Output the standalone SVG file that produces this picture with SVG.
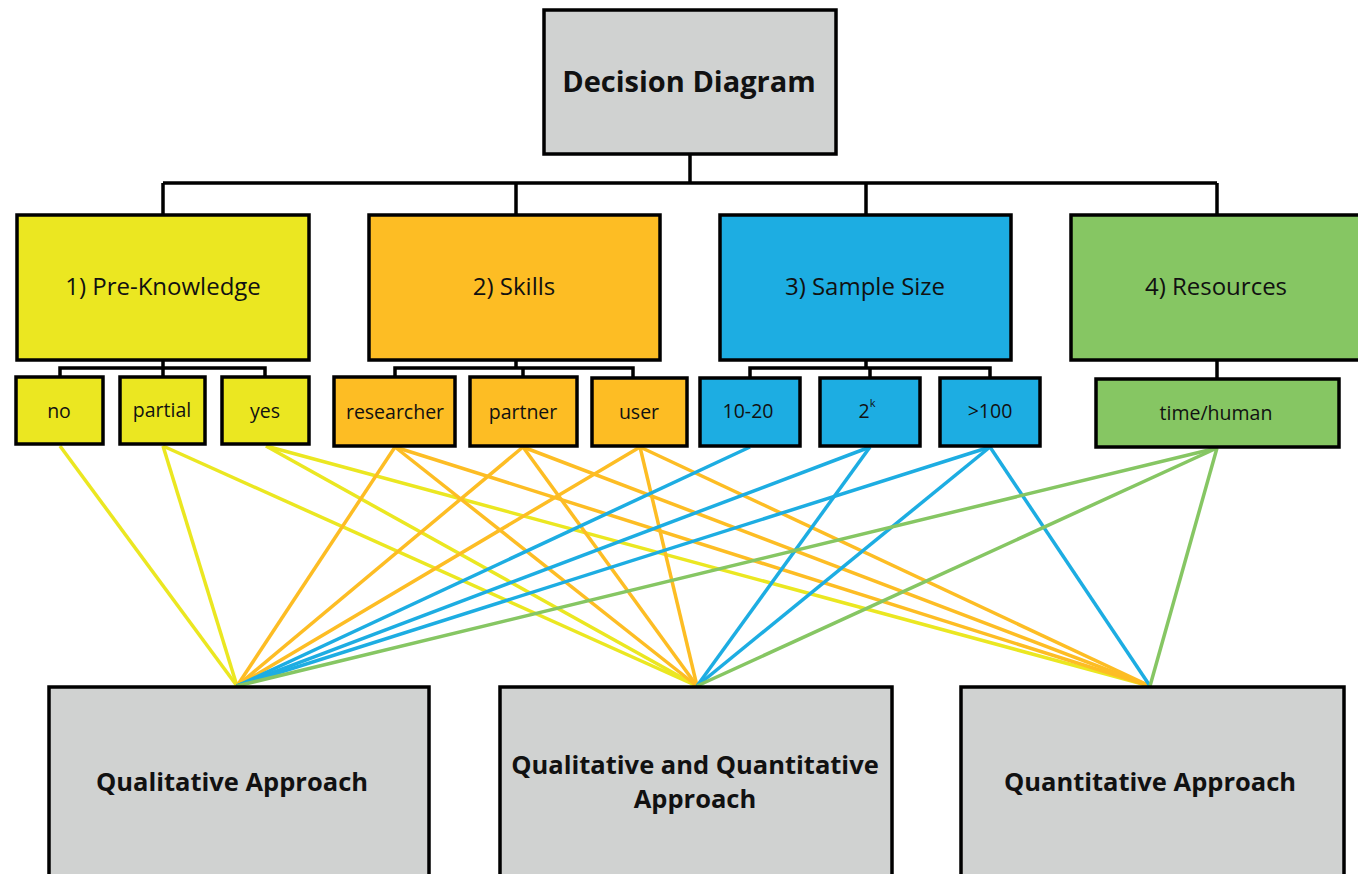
<svg xmlns="http://www.w3.org/2000/svg" width="1358" height="874" viewBox="0 0 1358 874">
<style>
.box{stroke:#000;stroke-width:3.5}
.gray{fill:#D0D2D1}
.yel{fill:#EBE721}
.org{fill:#FDBD24}
.blu{fill:#1DADE2}
.grn{fill:#86C663}
.t{font-family:"Open Sans","Liberation Sans",sans-serif;fill:#111;text-anchor:middle;dominant-baseline:central}
.cat{font-size:24px}
.sub{font-size:19.5px}
.bold{font-weight:bold}
.big{font-size:25.5px}
.tree{fill:none;stroke:#000;stroke-width:3.5}
.ly{stroke:#EBE721;stroke-width:3.5}
.lo{stroke:#FDBD24;stroke-width:3.5}
.lb{stroke:#1DADE2;stroke-width:3.5}
.lg{stroke:#86C663;stroke-width:3.5}
</style>
<g id="connectors">
<path class="tree" d="M690 154V183M163 183H1217M163 183V215M516 183V215M866 183V215M1217 183V215"/>
<path class="tree" d="M163 360V368M60 377V368H265V377M163 368V377"/>
<path class="tree" d="M516 360V368M395 377V368H633V377M523 368V377"/>
<path class="tree" d="M866 360V368M750 378V368H990V378M870 368V378"/>
<path class="tree" d="M1217 360V379"/>
<g class="ly">
<line x1="60" y1="446" x2="237" y2="686"/>
<line x1="163" y1="446" x2="237" y2="686"/>
<line x1="163" y1="446" x2="697" y2="686"/>
<line x1="266" y1="446" x2="697" y2="686"/>
<line x1="266" y1="446" x2="1150" y2="686"/>
</g>
<g class="lo">
<line x1="395" y1="447" x2="237" y2="686"/>
<line x1="395" y1="447" x2="697" y2="686"/>
<line x1="395" y1="447" x2="1150" y2="686"/>
<line x1="523" y1="447" x2="237" y2="686"/>
<line x1="523" y1="447" x2="697" y2="686"/>
<line x1="523" y1="447" x2="1150" y2="686"/>
<line x1="640" y1="447" x2="237" y2="686"/>
<line x1="640" y1="447" x2="697" y2="686"/>
<line x1="640" y1="447" x2="1150" y2="686"/>
</g>
<g class="lb">
<line x1="750" y1="447" x2="237" y2="686"/>
<line x1="870" y1="447" x2="237" y2="686"/>
<line x1="870" y1="447" x2="697" y2="686"/>
<line x1="990" y1="447" x2="237" y2="686"/>
<line x1="990" y1="447" x2="697" y2="686"/>
<line x1="990" y1="447" x2="1150" y2="686"/>
</g>
<g class="lg">
<line x1="1217" y1="448" x2="237" y2="686"/>
<line x1="1217" y1="448" x2="697" y2="686"/>
<line x1="1217" y1="448" x2="1150" y2="686"/>
</g>
</g>
<g id="decision"><rect class="box gray" x="544" y="10" width="292" height="144"/><text class="t bold" x="689" y="80" font-size="29">Decision Diagram</text></g>
<g id="preknowledge"><rect class="box yel" x="17" y="215" width="292" height="145"/><text class="t cat" x="163" y="285">1) Pre-Knowledge</text></g>
<g id="skills"><rect class="box org" x="369" y="215" width="291" height="145"/><text class="t cat" x="514" y="285">2) Skills</text></g>
<g id="samplesize"><rect class="box blu" x="720" y="215" width="291" height="145"/><text class="t cat" x="865" y="285">3) Sample Size</text></g>
<g id="resources"><rect class="box grn" x="1071" y="215" width="300" height="145"/><text class="t cat" x="1216" y="285">4) Resources</text></g>
<g id="no"><rect class="box yel" x="16" y="377" width="87" height="67"/><text class="t sub" x="59" y="410">no</text></g>
<g id="partial"><rect class="box yel" x="120" y="377" width="85" height="67"/><text class="t sub" x="162" y="409">partial</text></g>
<g id="yes"><rect class="box yel" x="222" y="377" width="87" height="67"/><text class="t sub" x="265" y="410">yes</text></g>
<g id="researcher"><rect class="box org" x="334" y="377" width="121" height="69"/><text class="t sub" x="395" y="411">researcher</text></g>
<g id="partner"><rect class="box org" x="470" y="377" width="107" height="69"/><text class="t sub" x="523" y="411">partner</text></g>
<g id="user"><rect class="box org" x="592" y="378" width="95" height="68"/><text class="t sub" x="639" y="411">user</text></g>
<g id="n1020"><rect class="box blu" x="700" y="378" width="100" height="68"/><text class="t sub" x="748" y="410">10-20</text></g>
<g id="n2k"><rect class="box blu" x="820" y="378" width="100" height="68"/><text class="t sub" x="867" y="410">2<tspan font-size="11" dy="-8">k</tspan></text></g>
<g id="n100"><rect class="box blu" x="940" y="378" width="100" height="68"/><text class="t sub" x="990" y="410">&gt;100</text></g>
<g id="timehuman"><rect class="box grn" x="1096" y="379" width="243" height="68"/><text class="t sub" x="1216" y="412">time/human</text></g>
<g id="qual"><rect class="box gray" x="49" y="687" width="380" height="200"/><text class="t bold big" x="232" y="781">Qualitative  Approach</text></g>
<g id="both"><rect class="box gray" x="500" y="687" width="392" height="200"/><text class="t bold big" x="695" y="764">Qualitative  and  Quantitative</text><text class="t bold big" x="695" y="798">Approach</text></g>
<g id="quant"><rect class="box gray" x="961" y="687" width="383" height="200"/><text class="t bold big" x="1150" y="781">Quantitative  Approach</text></g>
</svg>
